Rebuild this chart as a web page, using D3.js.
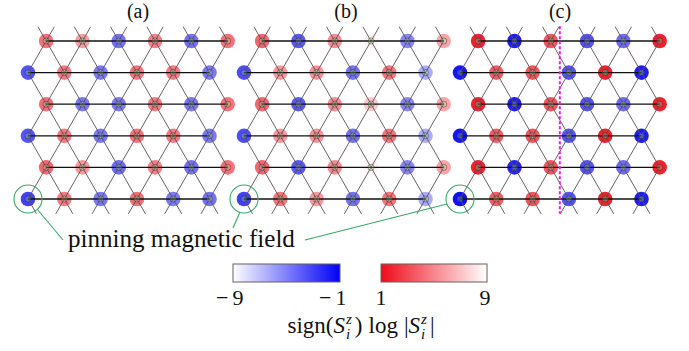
<!DOCTYPE html>
<html>
<head>
<meta charset="utf-8">
<script src="https://cdn.jsdelivr.net/npm/d3@7"></script>
<style>
  html, body { margin: 0; padding: 0; background: #fff; }
  svg { display: block; }
</style>
</head>
<body>
<svg id="chart" width="689" height="351" font-family="'Liberation Serif', 'Times New Roman', Tinos, 'DejaVu Serif', serif"></svg>
<script>
// sign(S_i^z) log|S_i^z| on each site, rows listed top to bottom
const panelTitles = ["(a)", "(b)", "(c)"];

const panelA = [
  [ 4.3,  5.8, -4.6,  4.8, -4.6,  4.3],
  [-3.6,  4.6, -4.8,  4.4,  4.6, -4.8],
  [ 4.2, -4.8, -4.8,  4.6, -4.8,  4.4],
  [-3.6,  4.6, -4.8,  4.4,  4.6, -4.8],
  [ 4.0,  5.6, -4.4,  4.8, -4.6,  4.3],
  [-3.0,  4.6, -4.8,  4.2, -4.8, -4.6]
];

const panelB = [
  [ 4.0, -3.8,  5.2,  8.6, -5.2,  6.0],
  [-3.4,  5.6,  5.4, -4.6,  4.4, -6.4],
  [ 4.0, -3.8,  5.2,  7.2, -5.2,  6.0],
  [-3.4,  5.6,  5.4, -4.6,  4.4, -6.4],
  [ 4.0, -3.8,  5.2,  8.6, -5.2,  6.0],
  [-3.0,  4.4,  5.6, -4.6,  4.4, -6.4]
];

const panelC = [
  [ 1.7, -1.9,  3.4, -3.6, -4.4,  1.7],
  [-1.7,  3.6,  3.4, -3.6,  1.7, -1.9],
  [ 1.7, -1.9,  3.4, -3.6, -4.4,  1.7],
  [-1.7,  3.6,  3.4, -3.6,  1.7, -1.9],
  [ 1.7, -2.1,  3.4, -3.6, -4.4,  1.7],
  [-1.5,  3.6,  3.4, -3.6,  1.7, -1.9]
];

const panels = [panelA, panelB, panelC];

// colour bar ranges and their tick labels
const negDomain = [-9, -1];
const posDomain = [1, 9];
const negTicks = [-9, -1];
const posTicks = [1, 9];

// pinned site (row, column) in every panel
const pinnedSite = [5, 0];
// domain wall position in panel (c), in lattice units
const wallX = 2.75;

const svg = d3.select("#chart");

const nRows = 6, nCols = 6;
const a = 36.3;                       // lattice constant in px
const panelOffset = [28, 244, 460];   // x of site (row 1, col 0) in each panel
const titleX = [138, 346, 560];

const yScale = d3.scaleLinear().domain([0, nRows - 1]).range([41, 199]);

const blueEnd = "rgb(0,0,245)";
const redEnd = "rgb(238,12,26)";
const negColor = d3.scaleLinear().domain(negDomain).range(["#ffffff", blueEnd]).clamp(true);
const posColor = d3.scaleLinear().domain(posDomain).range([redEnd, "#ffffff"]).clamp(true);
const color = v => v < 0 ? negColor(v) : posColor(v);

// lattice x-coordinate (in units of a) for site (r, c)
const lx = (r, c) => c + (r % 2 === 0 ? 0.5 : 0);
const hasSiteAt = (r, x) => {
  const c = x - (r % 2 === 0 ? 0.5 : 0);
  return c >= -1e-9 && c <= nCols - 1 + 1e-9 && Math.abs(c - Math.round(c)) < 1e-9;
};

panels.forEach((vals, p) => {
  const xScale = d3.scaleLinear().domain([0, 1]).range([panelOffset[p], panelOffset[p] + a]);
  const g = svg.append("g").attr("class", "panel");

  const sites = [];
  vals.forEach((row, r) => row.forEach((v, c) => sites.push({ r, c, v, x: lx(r, c) })));

  // diagonal bonds plus half-bonds at the top and bottom edges
  const diag = [];
  for (const s of sites) {
    if (s.r < nRows - 1) {
      for (const dx of [-0.5, 0.5]) {
        if (hasSiteAt(s.r + 1, s.x + dx)) diag.push([s.x, s.r, s.x + dx, s.r + 1]);
      }
    }
    if (s.r === 0) {
      for (const dx of [-0.5, 0.5]) {
        if (hasSiteAt(nRows - 1, s.x + dx)) diag.push([s.x, 0, s.x + dx * 0.45, -0.45]);
      }
    }
    if (s.r === nRows - 1) {
      for (const dx of [-0.5, 0.5]) {
        if (hasSiteAt(0, s.x + dx)) diag.push([s.x, s.r, s.x + dx * 0.47, s.r + 0.47]);
      }
    }
  }

  // disks coloured by the spin value
  g.selectAll("circle.site").data(sites).join("circle")
    .attr("class", "site")
    .attr("cx", d => xScale(d.x))
    .attr("cy", d => yScale(d.r))
    .attr("r", 7.3)
    .attr("fill", d => color(d.v));

  g.selectAll("line.diag").data(diag).join("line")
    .attr("class", "diag")
    .attr("x1", d => xScale(d[0])).attr("y1", d => yScale(d[1]))
    .attr("x2", d => xScale(d[2])).attr("y2", d => yScale(d[3]))
    .attr("stroke", "#5a4f4f").attr("stroke-width", 0.9);

  // horizontal bonds, one per row
  g.selectAll("line.hor").data(d3.range(nRows)).join("line")
    .attr("class", "hor")
    .attr("x1", r => xScale(lx(r, 0))).attr("x2", r => xScale(lx(r, nCols - 1)))
    .attr("y1", r => yScale(r)).attr("y2", r => yScale(r))
    .attr("stroke", "#151010").attr("stroke-width", 1.3);

  // small spin marker at the centre of each site
  g.selectAll("circle.core").data(sites).join("circle")
    .attr("class", "core")
    .attr("cx", d => xScale(d.x))
    .attr("cy", d => yScale(d.r))
    .attr("r", 3.1)
    .attr("fill", "rgba(170,245,170,0.22)")
    .attr("stroke", "rgba(40,28,28,0.6)").attr("stroke-width", 0.7);

  // domain wall in panel (c)
  if (p === 2) {
    g.append("line")
      .attr("x1", xScale(wallX)).attr("x2", xScale(wallX))
      .attr("y1", yScale(-0.47)).attr("y2", yScale(nRows - 1 + 0.47))
      .attr("stroke", "#e81ee8").attr("stroke-width", 2)
      .attr("stroke-dasharray", "3,2");
  }

  // ring around the pinned site
  g.append("circle")
    .attr("cx", xScale(lx(pinnedSite[0], pinnedSite[1])))
    .attr("cy", yScale(pinnedSite[0]))
    .attr("r", 14)
    .attr("fill", "none")
    .attr("stroke", "#3aa86a").attr("stroke-width", 1.1);

  svg.append("text")
    .attr("x", titleX[p]).attr("y", 18)
    .attr("text-anchor", "middle")
    .attr("font-size", 20)
    .attr("fill", "#111")
    .text(panelTitles[p]);
});

// leaders from the pinned sites to the annotation
const leaders = [
  [37, 209, 63, 240],
  [240, 212, 233, 228],
  [447, 204, 305, 240]
];
svg.selectAll("line.leader").data(leaders).join("line")
  .attr("class", "leader")
  .attr("x1", d => d[0]).attr("y1", d => d[1])
  .attr("x2", d => d[2]).attr("y2", d => d[3])
  .attr("stroke", "#3aa86a").attr("stroke-width", 1.1);

const note = svg.append("text")
  .attr("x", 68).attr("y", 247)
  .attr("font-size", 22)
  .attr("fill", "#111")
  .text("pinning magnetic field");
{
  const w = note.node().getComputedTextLength();
  if (w > 0) note.attr("font-size", 22 * 227 / w);
}

// colour bars
const defs = svg.append("defs");
function gradient(id, scale, domain) {
  const lg = defs.append("linearGradient").attr("id", id)
    .attr("x1", "0%").attr("x2", "100%").attr("y1", "0%").attr("y2", "0%");
  d3.range(0, 1.0001, 0.1).forEach(t => {
    lg.append("stop").attr("offset", (t * 100) + "%")
      .attr("stop-color", scale(domain[0] + t * (domain[1] - domain[0])));
  });
}
gradient("gradNeg", negColor, negDomain);
gradient("gradPos", posColor, posDomain);

const negBar = d3.scaleLinear().domain(negDomain).range([233, 340]);
const posBar = d3.scaleLinear().domain(posDomain).range([381, 487]);
const barTop = 264, barH = 18;

svg.append("rect").attr("x", negBar.range()[0]).attr("y", barTop)
  .attr("width", negBar.range()[1] - negBar.range()[0]).attr("height", barH)
  .attr("fill", "url(#gradNeg)").attr("stroke", "#6a6060").attr("stroke-width", 1);
svg.append("rect").attr("x", posBar.range()[0]).attr("y", barTop)
  .attr("width", posBar.range()[1] - posBar.range()[0]).attr("height", barH)
  .attr("fill", "url(#gradPos)").attr("stroke", "#6a6060").attr("stroke-width", 1);

// tick labels: the digit sits under the bar end, a minus sign hangs to its left
const tickLabel = (x, v) => {
  const digit = svg.append("text").attr("x", x).attr("y", 305)
    .attr("text-anchor", "middle").attr("font-size", 22).attr("fill", "#111")
    .text(Math.abs(v));
  if (v < 0) {
    const w = digit.node().getComputedTextLength();
    svg.append("text").attr("x", x - w / 2 - 4).attr("y", 305)
      .attr("text-anchor", "end").attr("font-size", 22).attr("fill", "#111")
      .text("\u2212");
  }
};
tickLabel(negBar(negTicks[0]) + 5, negTicks[0]);
tickLabel(negBar(negTicks[1]) + 1, negTicks[1]);
tickLabel(posBar(posTicks[0]), posTicks[0]);
tickLabel(posBar(posTicks[1]) - 2, posTicks[1]);

// axis label: sign(S_i^z) log |S_i^z|, laid out piece by piece
const labelParts = [
  { t: "sign(", size: 23 },
  { t: "S", size: 23, it: true },
  { t: "z", size: 15, dy: -9, it: true, sup: true },
  { t: "i", size: 15, dy: 6, it: true, sub: true },
  { t: ")", size: 23, gap: 6 },
  { t: "log", size: 23, gap: 6 },
  { t: "|", size: 23 },
  { t: "S", size: 23, it: true },
  { t: "z", size: 15, dy: -9, it: true, sup: true },
  { t: "i", size: 15, dy: 6, it: true, sub: true },
  { t: "|", size: 23 }
];
const labG = svg.append("g");
let cursor = 0, supStart = 0, supW = 0;
labelParts.forEach(part => {
  const x = part.sub ? supStart : cursor + (part.sup ? 1 : 0);
  const el = labG.append("text")
    .attr("x", x).attr("y", 333 + (part.dy || 0))
    .attr("font-size", part.size)
    .attr("font-style", part.it ? "italic" : "normal")
    .attr("fill", "#111")
    .text(part.t);
  const w = el.node().getComputedTextLength();
  if (part.sup) { supStart = cursor + 1; supW = w + 1; cursor += w + 1; }
  else if (part.sub) { cursor = supStart + Math.max(supW, w) + 2; }
  else cursor += w + (part.gap || 0);
});
{
  const bb = labG.node().getBBox();
  labG.attr("transform", `translate(${361 - (bb.x + bb.width / 2)},0)`);
}
</script>
</body>
</html>
